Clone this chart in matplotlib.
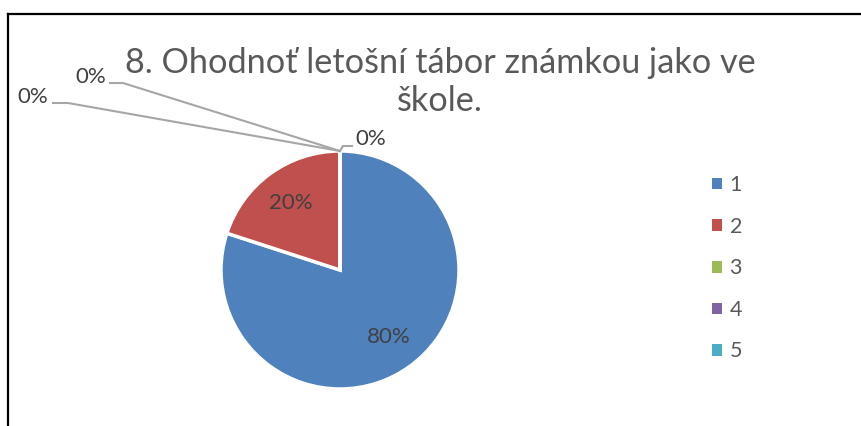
import matplotlib.pyplot as plt
from matplotlib.lines import Line2D
from matplotlib.patches import Patch
import numpy as np

plt.rcParams['font.family'] = ['Lato', 'DejaVu Sans']

# data
categories = ['1', '2', '3', '4', '5']
values = [80, 20, 0, 0, 0]
colors = ['#4F81BD', '#C0504D', '#9BBB59', '#8064A2', '#4BACC6']
title = '8. Ohodnoť letošní tábor známkou jako ve\nškole.'

W, H = 861, 426
fig = plt.figure(figsize=(W / 100, H / 100), dpi=100)

# pie axes: centre ~ (340, 270) px, radius ~119 px
cx, cy, r = 340, 270, 119
ax = fig.add_axes([(cx - r) / W, (H - cy - r) / H, 2 * r / W, 2 * r / H])

total = sum(values)
wedges, texts, autotexts = ax.pie(
    values, colors=colors, startangle=90, counterclock=False, radius=1,
    autopct=lambda p: f'{p:.0f}%' if p > 0 else '', pctdistance=0.7,
    wedgeprops=dict(edgecolor='white', linewidth=2.5),
    textprops=dict(color='#404040', fontsize=16))
ax.set_xlim(-1, 1)
ax.set_ylim(-1, 1)
ax.axis('off')

# labels for zero slices, with leader lines (px positions of text / elbows)
def px(x, y):
    return ((x - cx) / r, (cy - y) / r)

zero_labels = [
    # text pos (px), ha, elbow points (px)
    ((355, 139), 'left', [(352, 146), (343, 146)]),
    ((106, 77), 'right', [(110, 83), (123, 83)]),
    ((48, 97), 'right', [(53, 103), (68, 103)]),
]
zi = [i for i, v in enumerate(values) if v == 0]
for i, (tpos, ha, elbow) in zip(zi, zero_labels):
    w = wedges[i]
    ang = np.deg2rad(w.theta1)
    tip = (np.cos(ang) * 1.0, np.sin(ang) * 1.0)
    pts = [px(*p) for p in elbow] + [tip]
    ax.plot([p[0] for p in pts], [p[1] for p in pts], color='#A6A6A6',
            lw=1.5, clip_on=False, solid_joinstyle='miter')
    tx, ty = px(*tpos)
    ax.text(tx, ty, f'{values[i] / total:.0%}', ha=ha, va='center',
            fontsize=16, color='#404040', clip_on=False)

fig.text(440 / W, 1 - 82 / H, title, ha='center', va='center',
         fontsize=24.7, color='#595959', linespacing=1.25)

handles = [Patch(facecolor=c, edgecolor='none') for c in colors]
fig.legend(handles, categories, loc='upper left',
           bbox_to_anchor=(693 / W, 1 - 156 / H), frameon=False,
           handlelength=0.45, handleheight=0.45, handletextpad=0.35,
           labelspacing=1.0, fontsize=15.5, labelcolor='#595959')

# frame (left and top edges visible)
fig.add_artist(Line2D([8 / W, 8 / W], [0, 1 - 14 / H], color='black',
                      lw=1.6, transform=fig.transFigure))
fig.add_artist(Line2D([8 / W, 1], [1 - 14 / H, 1 - 14 / H], color='black',
                      lw=1.6, transform=fig.transFigure))

fig.savefig('out.png', dpi=100)
